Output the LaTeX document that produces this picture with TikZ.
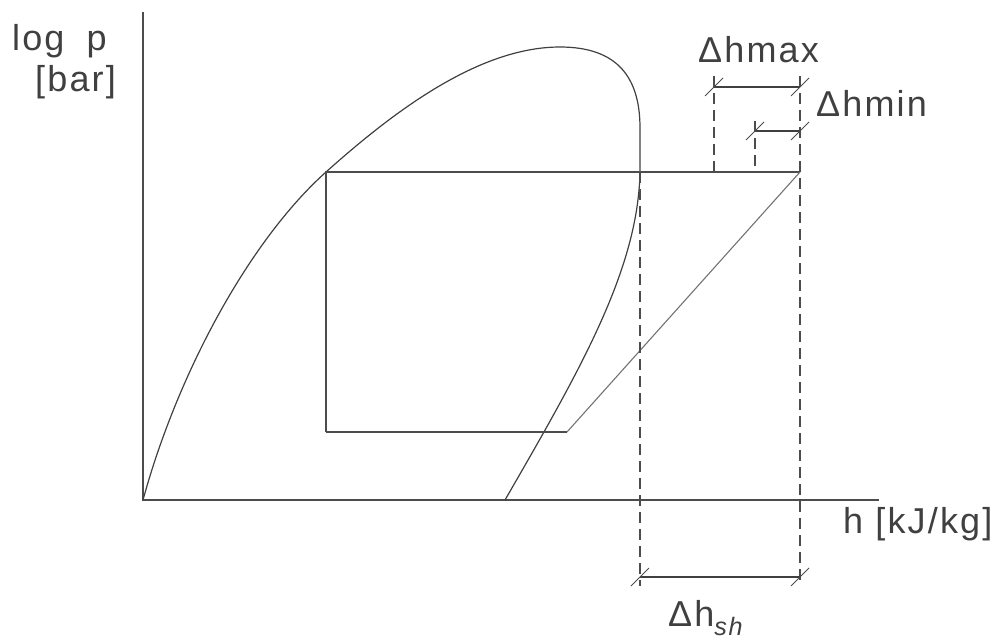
\documentclass[tikz,border=0pt]{standalone}
\usepackage{fontspec}
\setmainfont{Liberation Sans}
\newfontfamily\spacedfont[LetterSpace=6]{Liberation Sans}
\begin{document}
\begin{tikzpicture}[x=1pt,y=-1pt,
  axis/.style={line width=1.3pt,draw=black!70},
  curve/.style={line width=1.2pt,draw=black!75},
  cyc/.style={line width=1.2pt,draw=black!70},
  ext/.style={line width=1.1pt,draw=black!70,dash pattern=on 11pt off 6pt},
  dim/.style={line width=1.1pt,draw=black!75},
  lbl/.style={inner sep=0pt,text=black!75,font=\spacedfont\fontsize{36}{40}\selectfont}]
\useasboundingbox (0,0) rectangle (1007,643);
% axes
\coordinate (O) at (143,500);
\coordinate (Ytop) at (143,12);
\coordinate (Xend) at (879,500);
\draw[axis] (Ytop) -- (O) -- (Xend);
% cycle corners
\coordinate (A) at (326,172);
\coordinate (B) at (800,172);
\coordinate (C) at (567,432);
\coordinate (D) at (326,432);
% saturation dome
\coordinate (Peak) at (560,47);
\coordinate (R1) at (640,128);
\coordinate (R2) at (640,172);
\coordinate (Bot) at (505,500);
\draw[curve] (O) .. controls (178,372) and (250,240) .. (A)
  .. controls (392,113) and (478,47) .. (Peak)
  .. controls (618,47) and (640,78) .. (R1)
  -- (R2)
  .. controls (638,270) and (580,370) .. (Bot);
% cycle
\draw[cyc] (D) -- (A) -- (B);
\draw[cyc] (D) -- (C);
\draw[line width=1.1pt,draw=black!55] (C) -- (B);
% extension lines
\coordinate (E1t) at (714,76);  \coordinate (E1b) at (714,172);
\coordinate (E2t) at (755,121); \coordinate (E2b) at (755,172);
\coordinate (E3t) at (800,76);  \coordinate (E3b) at (800,586);
\coordinate (E4t) at (640,172); \coordinate (E4b) at (640,586);
\draw[ext] (E1t) -- (E1b);
\draw[ext] (E2t) -- (E2b);
\draw[ext] (E3t) -- (E3b);
\draw[ext] (E4t) -- (E4b);
% dimension lines
\coordinate (M1) at (714,87);  \coordinate (M2) at (800,87);
\coordinate (N1) at (755,131); \coordinate (N2) at (800,131);
\coordinate (S1) at (640,577); \coordinate (S2) at (800,577);
\draw[dim] (M1) -- (M2);
\draw[dim] (N1) -- (N2);
\draw[dim] (S1) -- (S2);
\foreach \p in {M1,M2,N1,N2,S1,S2}
  \draw[line width=0.8pt,draw=black!70] ([shift={(-9,9)}]\p) -- ([shift={(9,-9)}]\p);
% labels
\node[lbl,anchor=base west] (logp) at (12,50) {log\kern 22pt p};
\node[lbl,anchor=base west] (bar) at (35,91) {[bar]};
\node[lbl,anchor=base west] (dhmax) at (698,62) {Δhmax};
\node[lbl,anchor=base west] (dhmin) at (816,116) {Δhmin};
\node[lbl,anchor=base west] (hax) at (843,533) {h [kJ/kg]};
\node[lbl,anchor=base west] (dhsh) at (668,626) {Δh\textsubscript{\itshape sh}};
\end{tikzpicture}
\end{document}
